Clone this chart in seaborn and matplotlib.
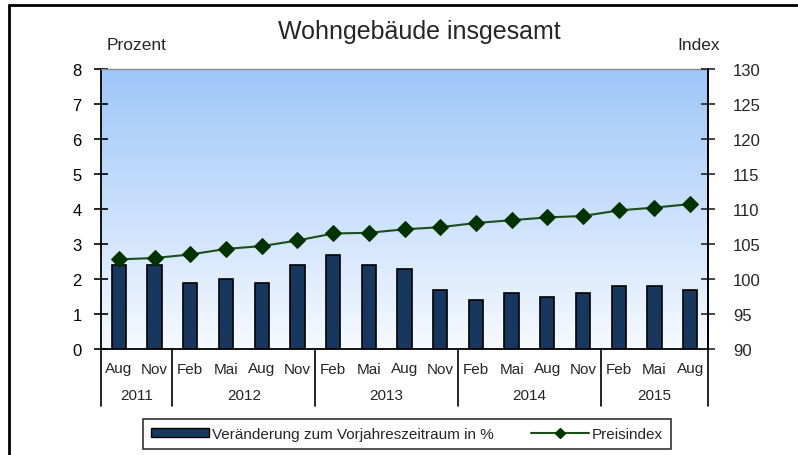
import numpy as np
import pandas as pd
import matplotlib
matplotlib.use("Agg")
import matplotlib.pyplot as plt
import matplotlib.transforms as mtransforms
from matplotlib.patches import Patch
from matplotlib.lines import Line2D
import seaborn as sns

months = ["Aug", "Nov", "Feb", "Mai", "Aug", "Nov", "Feb", "Mai", "Aug", "Nov",
          "Feb", "Mai", "Aug", "Nov", "Feb", "Mai", "Aug"]
years = ["2011", "2011", "2012", "2012", "2012", "2012", "2013", "2013", "2013", "2013",
         "2014", "2014", "2014", "2014", "2015", "2015", "2015"]
change_pct = [2.4, 2.4, 1.9, 2.0, 1.9, 2.4, 2.7, 2.4, 2.3, 1.7,
              1.4, 1.6, 1.5, 1.6, 1.8, 1.8, 1.7]
price_index = [102.8, 103.0, 103.5, 104.3, 104.7, 105.5, 106.5, 106.6, 107.1, 107.4,
               108.0, 108.4, 108.8, 109.0, 109.8, 110.2, 110.7]
year_labels = ["2011", "2012", "2013", "2014", "2015"]

sns.set_style("ticks")
plt.rcParams['font.family'] = ['Liberation Sans', 'DejaVu Sans']

df = pd.DataFrame({"key": [f"{m} {y}" for m, y in zip(months, years)],
                   "pos": np.arange(len(months)),
                   "change": change_pct, "index": price_index})

fig = plt.figure(figsize=(7.98, 4.56), dpi=100)
ax = fig.add_axes([101/798, 1-350/456, (708-101)/798, (350-70)/456])

# gradient background
grad = np.linspace(0, 1, 256).reshape(-1, 1)
top = np.array([158, 198, 249]) / 255
bot = np.array([246, 250, 255]) / 255
img = top[None, None, :] * (1 - grad[:, :, None]) + bot[None, None, :] * grad[:, :, None]
ax.imshow(img, extent=[-0.5, 16.5, 0, 8], aspect='auto', origin='upper', zorder=0)

sns.barplot(data=df, x="key", y="change", order=list(df["key"]), ax=ax,
            color="#17375e", saturation=1, width=0.4, edgecolor="black",
            linewidth=1.2, zorder=2)
ax.set_xlim(-0.5, 16.5)
ax.set_ylim(0, 8)
ax.set_yticks(range(0, 9))
ax.set_xticks(range(len(months)))
ax.set_xticklabels(months)
ax.tick_params(axis='x', length=0, pad=9, labelsize=11)
ax.tick_params(axis='y', length=10, width=1.2, direction='inout', pad=9,
               labelsize=12, colors='black')
ax.set_xlabel("")
ax.set_ylabel("")
ax.spines["top"].set_color("#8a8a8a")
ax.spines["top"].set_linewidth(1)
for s in ["left", "bottom", "right"]:
    ax.spines[s].set_color("black")
    ax.spines[s].set_linewidth(1.3)

ax2 = ax.twinx()
sns.lineplot(data=df, x="pos", y="index", ax=ax2, color="#1b4d1b", linewidth=1.5,
             marker="D", markersize=8, markerfacecolor="#003300",
             markeredgecolor="#003300", zorder=3)
ax2.set_ylim(90, 130)
ax2.set_yticks(range(90, 131, 5))
ax2.set_xlim(-0.5, 16.5)
ax2.set_ylabel("")
ax2.set_xlabel("")
ax2.tick_params(axis='y', length=10, width=1.2, direction='inout', pad=13, labelsize=12)
ax2.spines["top"].set_visible(False)
ax2.spines["right"].set_linewidth(1.3)
ax2.spines["right"].set_color("black")
ax2.spines["left"].set_visible(False)
ax2.spines["bottom"].set_visible(False)

# category separators and year labels
trans = mtransforms.blended_transform_factory(ax.transData, ax.transAxes)
depth = -(407 - 350) / 280
for xs in [-0.5, 1.5, 5.5, 9.5, 13.5, 16.5]:
    ax.plot([xs, xs], [0, depth], transform=trans, color="black", lw=1.2, clip_on=False)
groups = {}
for i, y in enumerate(years):
    groups.setdefault(y, []).append(i)
for y in year_labels:
    c = np.mean(groups[y])
    ax.text(c, -(396 - 350) / 280, y, transform=trans, ha='center', va='center', fontsize=11)

fig.text(419/798, 1 - 32/456, "Wohngebäude insgesamt", ha='center', va='center', fontsize=18)
fig.text(137/798, 1 - 45/456, "Prozent", ha='center', va='center', fontsize=12.5)
fig.text(699/798, 1 - 45/456, "Index", ha='center', va='center', fontsize=12.5)

handles = [Patch(facecolor="#17375e", edgecolor="black"),
           Line2D([], [], color="#1b4d1b", lw=1.5, marker="D", markersize=5,
                  markerfacecolor="#003300", markeredgecolor="#003300")]
leg = fig.legend(handles, ["Veränderung zum Vorjahreszeitraum in %", "Preisindex"],
                 loc='center', bbox_to_anchor=(407/798, 1 - 435/456), ncol=2,
                 frameon=True, fancybox=False, edgecolor="black", fontsize=11,
                 handlelength=3.8, handleheight=0.55, columnspacing=2.4,
                 handletextpad=0.2, borderpad=0.55, borderaxespad=0)
leg.get_frame().set_linewidth(1.2)

# outer frame (top and left edges visible)
fig.add_artist(Line2D([9/798, 1.0], [1 - 6/456, 1 - 6/456], transform=fig.transFigure,
                      color="black", lw=2))
fig.add_artist(Line2D([9/798, 9/798], [0, 1 - 6/456], transform=fig.transFigure,
                      color="black", lw=2))

fig.savefig("out.png", dpi=100)
